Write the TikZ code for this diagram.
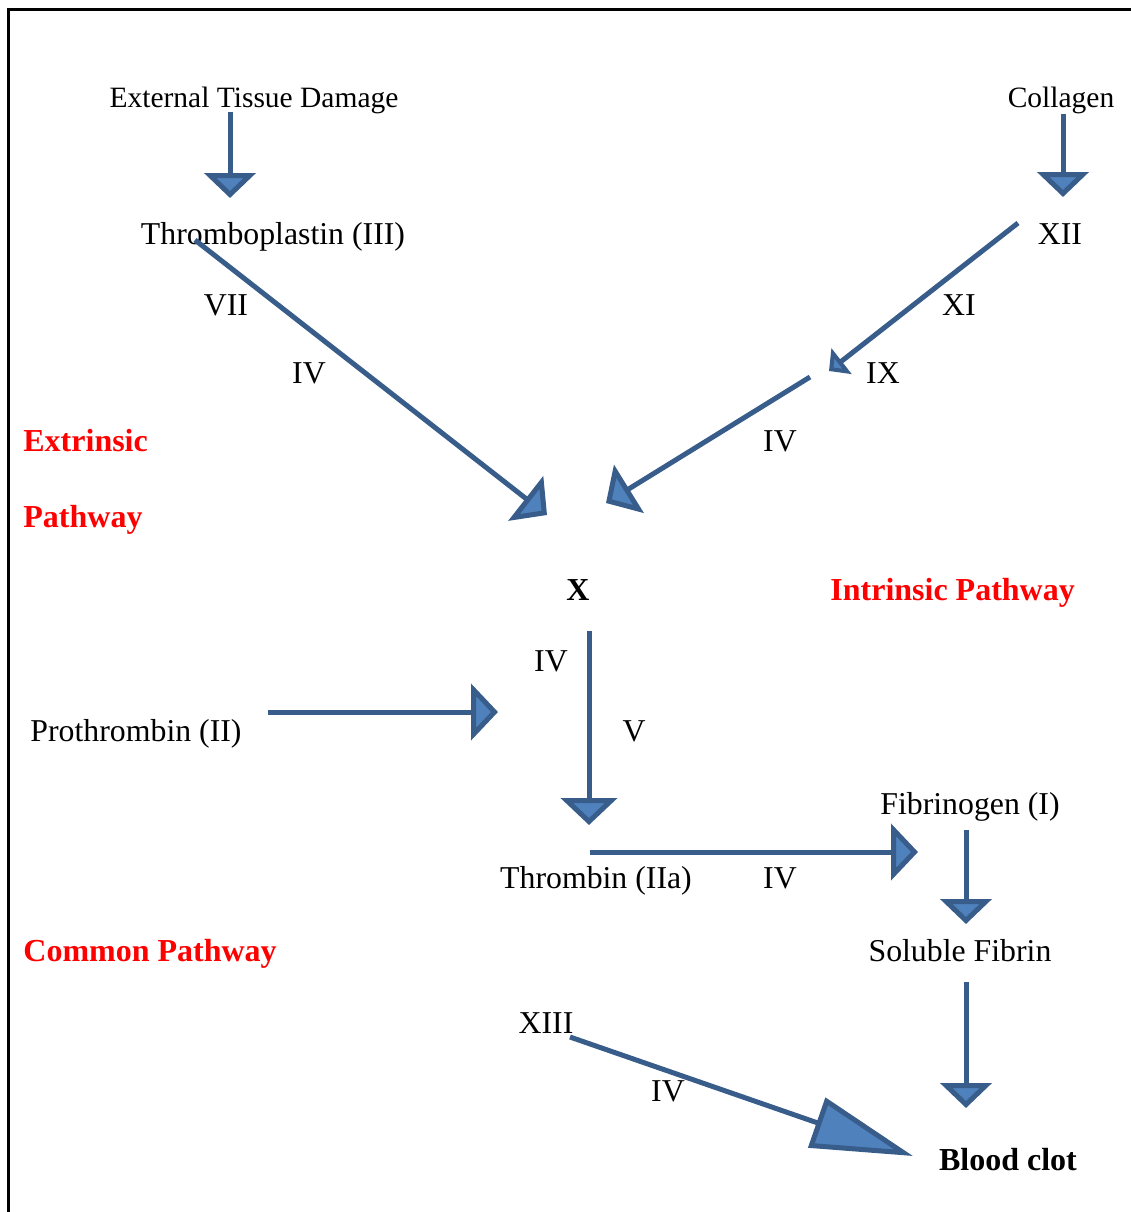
\documentclass[tikz,border=0pt]{standalone}
\usepackage{fontspec}
\setmainfont{Liberation Serif}
\usetikzlibrary{arrows.meta}
\definecolor{lineblue}{HTML}{385D8A}
\definecolor{fillblue}{HTML}{4F81BD}

\begin{document}
\begin{tikzpicture}[
    x = 0.5pt, y = -0.5pt,
every node/.style = {font=\fontsize{15.9}{19}\selectfont, inner sep=0pt, anchor=base},
source/.style = {font=\fontsize{14.75}{18}\selectfont},
bold/.style = {font=\fontsize{16}{19}\selectfont\bfseries},
redlabel/.style = {bold, text=red, anchor=base west},
flow/.style = {draw=lineblue, line width=2.5pt},
headS/.style = {-{Triangle[length=12.5pt, width=25.5pt, fill=fillblue]}},
headM/.style = {-{Triangle[length=13.5pt, width=28pt, fill=fillblue]}},
headT/.style = {-{Triangle[length=8pt, width=16pt, fill=fillblue]}},
headL/.style = {-{Triangle[length=51pt, width=26pt, fill=fillblue]}},
                    ]
\useasboundingbox (0,0) rectangle (1131,1212);
\draw[line width=1.5pt] (8,1212) -- (8,9) -- (1131,9);
%
\node[source] (ext) at (254,107)  {External Tissue Damage};
\node[source] (col) at (1061,107) {Collagen};
\node (tpl)  at (273,244)  {Thromboplastin (III)};
\node (f12)  at (1060,244) {XII};
\node (f7)   at (226,315)  {VII};
\node (f11)  at (959,315)  {XI};
\node (f4a)  at (309,383)  {IV};
\node (f9)   at (883,383)  {IX};
\node[redlabel] (extr) at (23,451) {Extrinsic};
\node (f4b)  at (780,451)  {IV};
\node[redlabel] (extp) at (23,527) {Pathway};
\node[bold] (fx) at (578,600) {X};
\node[redlabel] (intr) at (830,600) {Intrinsic Pathway};
\node (f4c)  at (551,671)  {IV};
\node (pro)  at (136,741)  {Prothrombin (II)};
\node (f5)   at (634,741)  {V};
\node (fbg)  at (970,814)  {Fibrinogen (I)};
\node (thr)  at (596,888)  {Thrombin (IIa)};
\node (f4d)  at (780,888)  {IV};
\node[redlabel] (com) at (23,961) {Common Pathway};
\node (sol)  at (960,961)  {Soluble Fibrin};
\node (f13)  at (546,1033) {XIII};
\node (f4e)  at (668,1101) {IV};
\node[bold] (clot) at (1008,1170) {Blood clot};
%
\coordinate (extS) at (230,112);  \coordinate (extE) at (230,198);
\coordinate (colS) at (1063,114); \coordinate (colE) at (1063,197);
\coordinate (tplS) at (195,240);  \coordinate (tplE) at (547,515);
\coordinate (xiiS) at (1018,223); \coordinate (xiiE) at (829,371);
\coordinate (ixS)  at (810,377);  \coordinate (ixE)  at (606,503);
\coordinate (xS)   at (589,631);  \coordinate (xE)   at (589,825);
\coordinate (proS) at (268,712);  \coordinate (proE) at (498,712);
\coordinate (thrS) at (590,852);  \coordinate (thrE) at (918,852);
\coordinate (fbgS) at (966,830);  \coordinate (fbgE) at (966,924);
\coordinate (solS) at (966,982);  \coordinate (solE) at (966,1108);
\coordinate (xiiiS) at (570,1037); \coordinate (xiiiE) at (913,1156);
%
\draw[flow, headS] (extS) -- (extE);
\draw[flow, headS] (colS) -- (colE);
\draw[flow, headM] (tplS) -- (tplE);
\draw[flow, headT] (xiiS) -- (xiiE);
\draw[flow, headM] (ixS)  -- (ixE);
\draw[flow, headM] (xS)   -- (xE);
\draw[flow, headM] (proS) -- (proE);
\draw[flow, headM] (thrS) -- (thrE);
\draw[flow, headS] (fbgS) -- (fbgE);
\draw[flow, headS] (solS) -- (solE);
\draw[flow, headL] (xiiiS) -- (xiiiE);
\end{tikzpicture}
\end{document}
